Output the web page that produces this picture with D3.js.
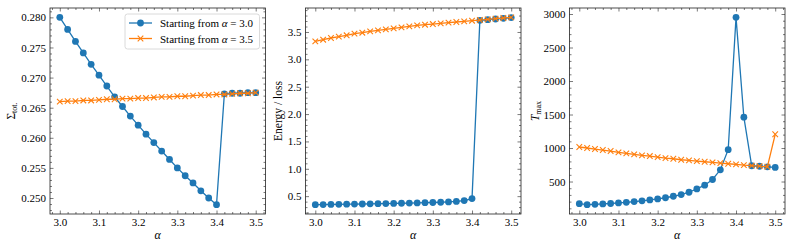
<!DOCTYPE html>
<html>
<head>
<meta charset="utf-8">
<script src="https://cdn.jsdelivr.net/npm/d3@7"></script>
<style>
  body { margin: 0; background: #fff; }
  svg { font-family: "Liberation Serif", "DejaVu Serif", serif; }
</style>
</head>
<body>
<svg id="chart" width="793" height="250"></svg>
<script>
const alphas = [3.00, 3.02, 3.04, 3.06, 3.08, 3.10, 3.12, 3.14, 3.16, 3.18, 3.20, 3.22, 3.24,
  3.26, 3.28, 3.30, 3.32, 3.34, 3.36, 3.38, 3.40, 3.42, 3.44, 3.46, 3.48, 3.50];

// Sigma_tot
const sigmaFrom30 = [0.2800, 0.2780, 0.2760, 0.2741, 0.2722, 0.2704, 0.2686, 0.2668, 0.2652,
  0.2636, 0.2621, 0.2606, 0.2592, 0.2578, 0.2564, 0.2550, 0.2537, 0.2525, 0.2512, 0.2500,
  0.2489, 0.2673, 0.2674, 0.2674, 0.2675, 0.2675];
const sigmaFrom35 = [0.2660, 0.2661, 0.2661, 0.2662, 0.2662, 0.2663, 0.2664, 0.2664, 0.2665,
  0.2665, 0.2666, 0.2666, 0.2667, 0.2668, 0.2668, 0.2669, 0.2669, 0.2670, 0.2671, 0.2671,
  0.2672, 0.2672, 0.2673, 0.2674, 0.2674, 0.2675];

// Energy / loss
const energyFrom30 = [0.345, 0.347, 0.349, 0.351, 0.353, 0.355, 0.357, 0.359, 0.362, 0.364,
  0.367, 0.370, 0.373, 0.376, 0.380, 0.384, 0.389, 0.395, 0.403, 0.420, 0.455,
  3.712, 3.725, 3.737, 3.750, 3.763];
const energyFrom35 = [3.329, 3.359, 3.390, 3.414, 3.439, 3.469, 3.487, 3.511, 3.530, 3.548,
  3.566, 3.584, 3.603, 3.621, 3.633, 3.645, 3.657, 3.670, 3.682, 3.694, 3.706, 3.718,
  3.730, 3.743, 3.755, 3.767];

// T_max
const tmaxFrom30 = [170, 155, 160, 165, 172, 180, 190, 200, 212, 225, 240, 258, 280, 305,
  340, 390, 445, 530, 675, 975, 2950, 1460, 735, 728, 720, 710];
const tmaxFrom35 = [1015, 1000, 985, 970, 955, 935, 920, 905, 890, 880, 865, 850, 840, 825,
  815, 805, 795, 785, 775, 765, 755, 745, 738, 730, 720, 1205];

const xTicks = [3.0, 3.1, 3.2, 3.3, 3.4, 3.5];
const sigmaTicks = [0.250, 0.255, 0.260, 0.265, 0.270, 0.275, 0.280];
const energyTicks = [0.5, 1.0, 1.5, 2.0, 2.5, 3.0, 3.5];
const tmaxTicks = [500, 1000, 1500, 2000, 2500, 3000];

const seriesNames = ['Starting from ', 'Starting from '];
const seriesAlpha = ['3.0', '3.5'];

const blue = '#1f77b4', orange = '#ff7f0e';
const svg = d3.select('#chart');
const plotTop = 8, plotH = 206, plotW = 215.5;

const panels = [
  { left: 50, a: sigmaFrom30, b: sigmaFrom35, ticks: sigmaTicks, fmt: d3.format('.3f'),
    minor: 0.001, label: 'sigma', labelX: 11, legend: true },
  { left: 305.5, a: energyFrom30, b: energyFrom35, ticks: energyTicks, fmt: d3.format('.1f'),
    minor: 0.1, label: 'energy', labelX: 278 },
  { left: 569.5, a: tmaxFrom30, b: tmaxFrom35, ticks: tmaxTicks, fmt: d3.format('d'),
    minor: 100, label: 'tmax', labelX: 535 }
];

const xCross = (g, s) => g.append('path')
  .attr('d', `M${-s},${-s}L${s},${s}M${-s},${s}L${s},${-s}`);

panels.forEach(p => {
  const g = svg.append('g').attr('transform', `translate(${p.left},${plotTop})`);
  const x = d3.scaleLinear().domain([2.975, 3.525]).range([0, plotW]);
  const ext = d3.extent(p.a.concat(p.b));
  const pad = (ext[1] - ext[0]) * 0.05;
  const y = d3.scaleLinear().domain([ext[0] - pad, ext[1] + pad]).range([plotH, 0]);

  const xMinor = d3.range(2.98, 3.525, 0.02).filter(v => !xTicks.some(t => Math.abs(t - v) < 1e-6));
  const yd = y.domain();
  const yMinor = d3.range(Math.ceil(yd[0] / p.minor), Math.floor(yd[1] / p.minor) + 1)
    .map(k => k * p.minor)
    .filter(v => !p.ticks.some(t => Math.abs(t - v) < p.minor * 1e-3));

  const axes = [
    [d3.axisBottom(x).tickValues(xTicks).tickFormat(d3.format('.1f')), `translate(0,${plotH})`, 3.5],
    [d3.axisBottom(x).tickValues(xMinor).tickFormat(''), `translate(0,${plotH})`, 2],
    [d3.axisTop(x).tickValues(xTicks).tickFormat(''), null, 3.5],
    [d3.axisTop(x).tickValues(xMinor).tickFormat(''), null, 2],
    [d3.axisLeft(y).tickValues(p.ticks).tickFormat(p.fmt), null, 3.5],
    [d3.axisLeft(y).tickValues(yMinor).tickFormat(''), null, 2],
    [d3.axisRight(y).tickValues(p.ticks).tickFormat(''), `translate(${plotW},0)`, 3.5],
    [d3.axisRight(y).tickValues(yMinor).tickFormat(''), `translate(${plotW},0)`, 2]
  ];
  axes.forEach(([ax, tr, len]) => {
    const a = g.append('g').attr('transform', tr).call(ax.tickSize(-len).tickPadding(4));
    a.select('.domain').remove();
    a.selectAll('line').attr('stroke', '#222').attr('stroke-width', 0.6);
    a.selectAll('text').attr('font-family', '"Liberation Serif", serif')
      .attr('font-size', 11).attr('fill', '#000');
  });

  const line = d3.line().x((d, i) => x(alphas[i])).y(d => y(d));

  g.append('path').datum(p.a).attr('d', line)
    .attr('fill', 'none').attr('stroke', blue).attr('stroke-width', 1.3);
  g.selectAll('.dotA').data(p.a).enter().append('circle')
    .attr('cx', (d, i) => x(alphas[i])).attr('cy', d => y(d)).attr('r', 3.4)
    .attr('fill', blue);

  g.append('path').datum(p.b).attr('d', line)
    .attr('fill', 'none').attr('stroke', orange).attr('stroke-width', 1.3);
  const crosses = g.selectAll('.dotB').data(p.b).enter().append('g')
    .attr('transform', (d, i) => `translate(${x(alphas[i])},${y(d)})`);
  crosses.each(function () { xCross(d3.select(this), 2.8); });
  crosses.selectAll('path').attr('stroke', orange).attr('stroke-width', 1.1).attr('fill', 'none');

  g.append('rect').attr('width', plotW).attr('height', plotH)
    .attr('fill', 'none').attr('stroke', '#222').attr('stroke-width', 0.8);

  // x label
  g.append('text').attr('x', plotW / 2).attr('y', 231).attr('text-anchor', 'middle')
    .attr('font-size', 12).attr('font-style', 'italic').text('α');

  // y label
  const yl = svg.append('text')
    .attr('transform', `translate(${p.labelX},${plotTop + plotH / 2}) rotate(-90)`)
    .attr('text-anchor', 'middle').attr('dominant-baseline', 'central').attr('font-size', 11.5);
  if (p.label === 'sigma') {
    yl.append('tspan').text('Σ');
    yl.append('tspan').attr('font-size', 8).attr('dy', 2.5).text('tot.');
  } else if (p.label === 'energy') {
    yl.text('Energy / loss');
  } else {
    yl.append('tspan').attr('font-style', 'italic').text('T');
    yl.append('tspan').attr('font-size', 8).attr('dy', 2.5).text('max');
  }

  if (p.legend) {
    const lg = g.append('g').attr('transform', `translate(75,6)`);
    lg.append('rect').attr('width', 134.5).attr('height', 35).attr('rx', 2.5)
      .attr('fill', '#fff').attr('fill-opacity', 0.85)
      .attr('stroke', '#d0d0d0').attr('stroke-width', 0.8);
    [blue, orange].forEach((c, i) => {
      const row = lg.append('g').attr('transform', `translate(0,${9 + i * 15.5})`);
      row.append('line').attr('x1', 4).attr('x2', 27).attr('stroke', c).attr('stroke-width', 1.3);
      if (i === 0) {
        row.append('circle').attr('cx', 15.5).attr('r', 3.4).attr('fill', c);
      } else {
        const m = row.append('g').attr('transform', 'translate(15.5,0)');
        xCross(m, 2.8);
        m.selectAll('path').attr('stroke', c).attr('stroke-width', 1.1);
      }
      const t = row.append('text').attr('x', 35).attr('dominant-baseline', 'central')
        .attr('font-size', 11);
      t.append('tspan').text(seriesNames[i]);
      t.append('tspan').attr('font-style', 'italic').text('α');
      t.append('tspan').text(' = ' + seriesAlpha[i]);
    });
  }
});
</script>
</body>
</html>
